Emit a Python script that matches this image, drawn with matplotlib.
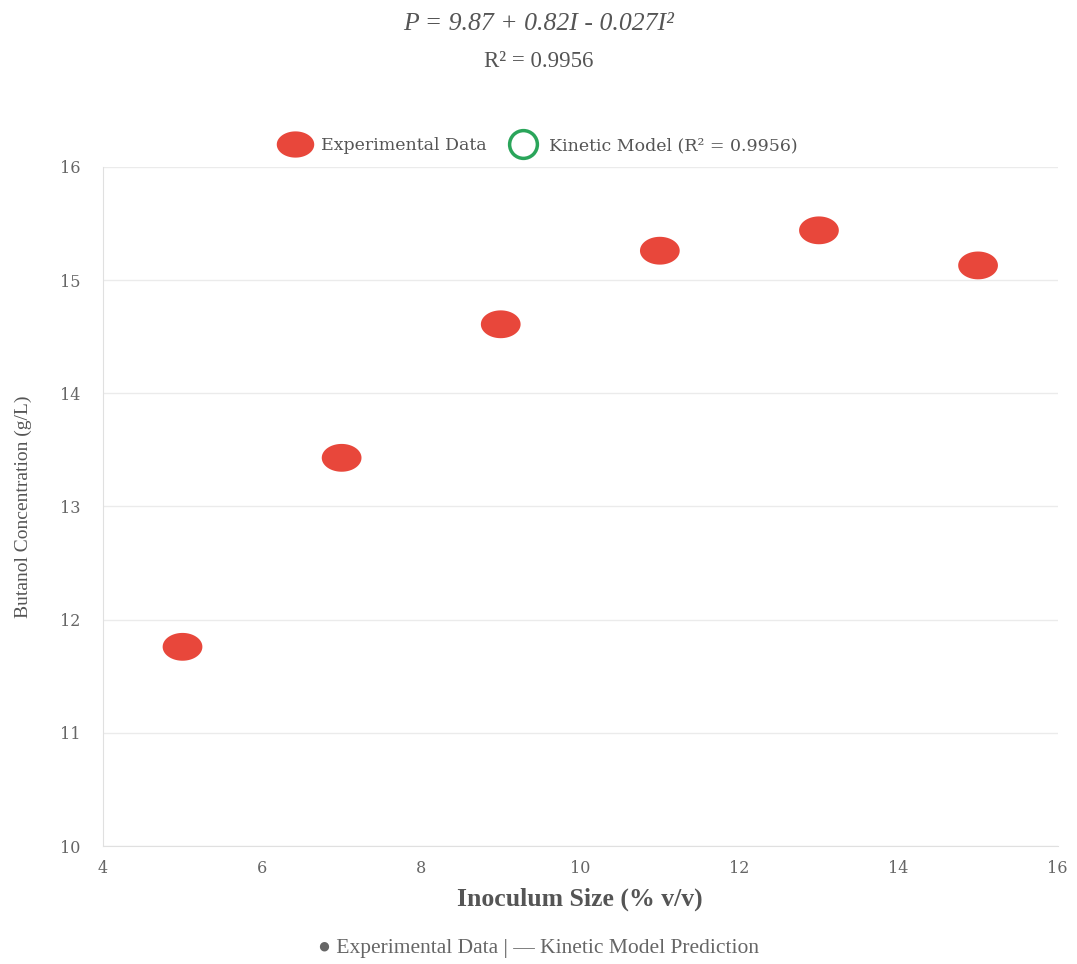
import matplotlib
matplotlib.use("Agg")
import matplotlib.pyplot as plt
from matplotlib.path import Path
from matplotlib.lines import Line2D
import numpy as np

# Inoculum size (% v/v) and measured butanol concentration (g/L)
inoculum = [5, 7, 9, 11, 13, 15]
butanol = [11.76, 13.43, 14.61, 15.26, 15.44, 15.13]

x_ticks = [4, 6, 8, 10, 12, 14, 16]
y_ticks = [10, 11, 12, 13, 14, 15, 16]

model_label = "Kinetic Model (R\u00b2 = 0.9956)"
data_label = "Experimental Data"

# wide elliptical marker
t = np.linspace(0, 2 * np.pi, 60)
ellipse = Path(np.column_stack([1.0 * np.cos(t), 0.7 * np.sin(t)]), closed=True)

fig = plt.figure(figsize=(10.77, 9.64), dpi=100)
ax = fig.add_axes([0.0956, 0.1224, 0.8864, 0.7044])

red = "#e8473b"
ax.scatter(inoculum, butanol, s=820, marker=ellipse, color=red, edgecolors="none", zorder=3)

ax.set_xlim(4, 16)
ax.set_ylim(10, 16)
ax.set_xticks(x_ticks)
ax.set_yticks(y_ticks)
ax.tick_params(length=0, labelsize=11.5, colors="#666666", pad=16)
for lab in ax.get_xticklabels() + ax.get_yticklabels():
    lab.set_family("DejaVu Serif")
ax.tick_params(axis="x", pad=10)

ax.grid(axis="y", color="#ebebeb", linewidth=1)
ax.set_axisbelow(True)
for s in ["top", "right"]:
    ax.spines[s].set_visible(False)
ax.spines["left"].set_color("#e0e0e0")
ax.spines["bottom"].set_color("#e0e0e0")

ax.set_xlabel("Inoculum Size (% v/v)", family="Liberation Serif", fontsize=18.5,
              fontweight="bold", color="#555555", labelpad=8)
ax.set_ylabel("Butanol Concentration (g/L)", family="Liberation Serif", fontsize=14,
              color="#555555", labelpad=20)

# equation header
fig.text(0.5, 0.975, "P = 9.87 + 0.82I - 0.027I\u00b2", ha="center", va="center",
         family="Liberation Serif", style="italic", fontsize=18.5, color="#555555")
fig.text(0.5, 0.936, "R\u00b2 = 0.9956", ha="center", va="center",
         family="Liberation Serif", fontsize=16.5, color="#555555")

handles = [
    Line2D([], [], linestyle="none", marker=ellipse, markersize=27,
           markerfacecolor=red, markeredgecolor="none"),
    Line2D([], [], linestyle="none", marker="o", markersize=20,
           markerfacecolor="none", markeredgecolor="#2aa55a", markeredgewidth=2.5),
]
leg = fig.legend(handles, [data_label, model_label], loc="center",
                 bbox_to_anchor=(0.5, 0.849), ncol=2, frameon=False,
                 prop={"family": "DejaVu Serif", "size": 12.5},
                 handletextpad=0.6, columnspacing=1.2, handlelength=1.8)
for txt in leg.get_texts():
    txt.set_color("#555555")

fig.text(0.5, 0.016, "\u25cf Experimental Data | \u2014 Kinetic Model Prediction",
         ha="center", va="center", family="Liberation Serif", fontsize=15.5,
         color="#666666")

fig.savefig("out.png", dpi=100, facecolor="white")
